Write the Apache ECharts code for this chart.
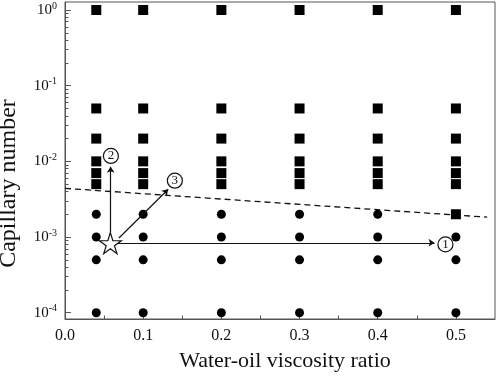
<!DOCTYPE html>
<html>
<head>
<meta charset="utf-8">
<script src="https://cdn.jsdelivr.net/npm/echarts@6/dist/echarts.min.js"></script>
<style>
  html, body { margin: 0; padding: 0; background: #fff; }
  #chart { width: 498px; height: 376px; }
</style>
</head>
<body>
<div id="chart"></div>
<script>
// viscosity ratios of the simulated cases
var ratios = [0.04, 0.1, 0.2, 0.3, 0.4, 0.5]
// capillary numbers per column: squares (one regime), circles (the other)
var squareCa = [
  [1, 0.05, 0.02, 0.01, 0.007, 0.005],
  [1, 0.05, 0.02, 0.01, 0.007, 0.005],
  [1, 0.05, 0.02, 0.01, 0.007, 0.005],
  [1, 0.05, 0.02, 0.01, 0.007, 0.005],
  [1, 0.05, 0.02, 0.01, 0.007, 0.005],
  [1, 0.05, 0.02, 0.01, 0.007, 0.005, 0.002]
]
var circleCa = [
  [0.002, 0.001, 0.0005, 0.0001],
  [0.002, 0.001, 0.0005, 0.0001],
  [0.002, 0.001, 0.0005, 0.0001],
  [0.002, 0.001, 0.0005, 0.0001],
  [0.002, 0.001, 0.0005, 0.0001],
  [0.001, 0.0005, 0.0001]
]
// dashed boundary
var boundary = [[0, 0.0044], [0.54, 0.00183]]
// star (starting state) and the three paths away from it
var star = [0.058, 0.00083]
var arrows = [
  [[0.0664, 0.00084], [0.4726, 0.00084]],
  [[0.0584, 0.00117], [0.0584, 0.0085]],
  [[0.069, 0.00097], [0.132, 0.00428]]
]
var arrowLabels = [
  ['1', 0.4866, 0.0008],
  ['2', 0.0587, 0.0118],
  ['3', 0.1405, 0.00556]
]
// tick values
var xMajor = [0, 0.1, 0.2, 0.3, 0.4, 0.5]
var xMinor = [0.05, 0.15, 0.25, 0.35, 0.45]
var decades = [-4, -3, -2, -1, 0]

var FONT = "'Liberation Serif', 'DejaVu Serif', serif"
var lg = function (v) { return Math.log10(v) }
var yMin = -4.083
var yMax = 0.106

var yMinor = []
decades.slice(0, 4).forEach(function (d) {
  for (var k = 2; k <= 9; k++) yMinor.push(d + lg(k))
})

function toPts(xs, cols) {
  var out = []
  xs.forEach(function (x, i) {
    cols[i].forEach(function (c) { out.push([x, lg(c)]) })
  })
  return out
}

var chart = echarts.init(document.getElementById('chart'))
chart.setOption({
  animation: false,
  grid: {
    left: 65, right: 3, top: 2, bottom: 57, outerBoundsMode: 'none',
    show: true, borderColor: '#555', borderWidth: 1
  },
  xAxis: [
    {
      type: 'value', min: 0, max: 0.55,
      name: 'Water-oil viscosity ratio', nameLocation: 'middle', nameGap: 31,
      nameTextStyle: { fontFamily: FONT, fontSize: 22, color: '#111', padding: [0, 0, 0, 10] },
      axisLine: { onZero: false, lineStyle: { color: '#555' } },
      axisTick: { inside: true, length: 6, customValues: xMajor, lineStyle: { color: '#555' } },
      axisLabel: {
        customValues: xMajor, margin: 9, fontFamily: FONT, fontSize: 16, color: '#111',
        formatter: function (v) { return v.toFixed(1) }
      },
      splitLine: { show: false }
    },
    {
      type: 'value', min: 0, max: 0.55, position: 'bottom',
      axisLine: { show: false, onZero: false },
      axisTick: { inside: true, length: 3.5, customValues: xMinor, lineStyle: { color: '#555' } },
      axisLabel: { show: false },
      splitLine: { show: false }
    }
  ],
  yAxis: [
    {
      type: 'value', min: yMin, max: yMax,
      name: 'Capillary number', nameLocation: 'middle', nameGap: 44,
      nameTextStyle: { fontFamily: FONT, fontSize: 24, color: '#111', padding: [0, 46, 0, 0] },
      axisLine: { onZero: false, lineStyle: { color: '#555' } },
      axisTick: { inside: true, length: 6, customValues: decades, lineStyle: { color: '#555' } },
      axisLabel: {
        customValues: decades, margin: 8, color: '#111',
        formatter: function (v) { return '{b|10}{s|' + Math.round(v) + '}' },
        rich: {
          b: { fontFamily: FONT, fontSize: 15, color: '#111' },
          s: { fontFamily: FONT, fontSize: 10, color: '#111', padding: [0, 0, 8, 0] }
        }
      },
      splitLine: { show: false }
    },
    {
      type: 'value', min: yMin, max: yMax, position: 'left',
      axisLine: { show: false, onZero: false },
      axisTick: { inside: true, length: 3.5, customValues: yMinor, lineStyle: { color: '#555' } },
      axisLabel: { show: false },
      splitLine: { show: false }
    }
  ],
  series: [
    {
      type: 'line', data: boundary.map(function (p) { return [p[0], lg(p[1])] }),
      symbol: 'none', lineStyle: { color: '#111', width: 1.3, type: [6, 4] }, z: 1
    },
    {
      type: 'scatter', data: toPts(ratios, squareCa), symbol: 'rect', symbolSize: 10,
      itemStyle: { color: '#000', opacity: 1 }, clip: false, z: 3
    },
    {
      type: 'scatter', data: toPts(ratios, circleCa), symbol: 'circle', symbolSize: 9,
      itemStyle: { color: '#000', opacity: 1 }, clip: false, z: 3
    },
    {
      type: 'lines', coordinateSystem: 'cartesian2d',
      data: arrows.map(function (a) {
        return { coords: a.map(function (p) { return [p[0], lg(p[1])] }) }
      }),
      symbol: ['none', 'arrow'], symbolSize: 6,
      lineStyle: { color: '#111', width: 1.2, opacity: 1 }, z: 4
    },
    {
      type: 'scatter', data: [[star[0], lg(star[1])]],
      symbol: 'path://M50,0 L61,35 L98,35 L68,57 L79,91 L50,70 L21,91 L32,57 L2,35 L39,35 Z',
      symbolSize: [22, 21],
      itemStyle: { color: '#fff', borderColor: '#111', borderWidth: 1.2, opacity: 1 }, z: 5
    },
    {
      type: 'scatter',
      data: arrowLabels.map(function (l) { return { name: l[0], value: [l[1], lg(l[2])] } }),
      symbol: 'circle', symbolSize: 15,
      itemStyle: { color: '#fff', borderColor: '#111', borderWidth: 1.2, opacity: 1 },
      label: {
        show: true, position: 'inside', formatter: '{b}',
        fontFamily: FONT, fontSize: 13, color: '#111'
      },
      z: 6
    }
  ]
})
</script>
</body>
</html>
